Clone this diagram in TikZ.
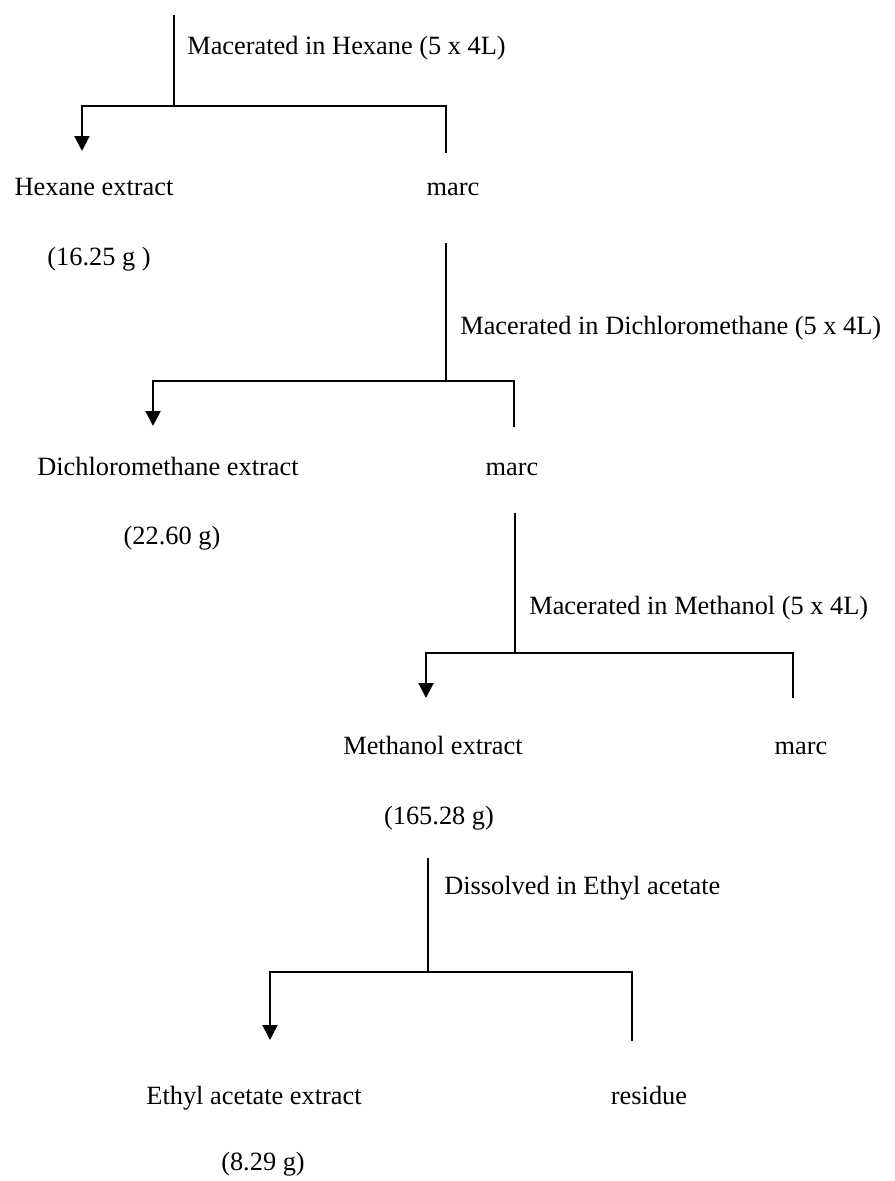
\documentclass[tikz,border=0pt]{standalone}
\usepackage{fontspec}
\setmainfont{Liberation Serif}
\usetikzlibrary{arrows.meta, positioning}

\begin{document}
\begin{tikzpicture}[x=0.02cm, y=-0.02cm,
    txt/.style={inner sep=0pt, text height=0.7em, text depth=0.2em,
      yshift=-0.06cm, font=\fontsize{15}{18}\selectfont},
    step label/.style={txt, anchor=west},
    branch/.style={line width=1.2pt},
    to extract/.style={branch, -{Triangle[width=8.5pt, length=8.5pt]}}]
    \useasboundingbox (0,0) rectangle (894,1181);

    % hexane
    \coordinate (t1) at (174,15);
    \coordinate (j1) at (174,106);
    \coordinate (a1) at (82,151);
    \coordinate (b1) at (446,153);
    \node[step label] (lab1) at (187,47) {Macerated in Hexane (5 x 4L)};
    \node[txt] (hex) at (94,188) {Hexane extract};
    \node[txt] (hexw) at (99,258) {(16.25 g )};
    \node[txt] (marc1) at (453,188) {marc};
    \draw[branch] (t1) -- (j1);
    \draw[to extract] (j1) -| (a1);
    \draw[branch] (j1) -| (b1);

    % dichloromethane
    \coordinate (t2) at (446,243);
    \coordinate (j2) at (446,381);
    \coordinate (a2) at (153,426);
    \coordinate (b2) at (514,427);
    \node[step label] (lab2) at (460,327) {Macerated in Dichloromethane (5 x 4L)};
    \node[txt] (dcm) at (168,468) {Dichloromethane extract};
    \node[txt] (dcmw) at (172,537) {(22.60 g)};
    \node[txt] (marc2) at (512,468) {marc};
    \draw[branch] (t2) -- (j2);
    \draw[to extract] (j2) -| (a2);
    \draw[branch] (j2) -| (b2);

    % methanol
    \coordinate (t3) at (515,513);
    \coordinate (j3) at (515,653);
    \coordinate (a3) at (426,698);
    \coordinate (b3) at (793,698);
    \node[step label] (lab3) at (529,607) {Macerated in Methanol (5 x 4L)};
    \node[txt] (meoh) at (433,747) {Methanol extract};
    \node[txt] (meohw) at (439,817) {(165.28 g)};
    \node[txt] (marc3) at (801,747) {marc};
    \draw[branch] (t3) -- (j3);
    \draw[to extract] (j3) -| (a3);
    \draw[branch] (j3) -| (b3);

    % ethyl acetate
    \coordinate (t4) at (428,858);
    \coordinate (j4) at (428,972);
    \coordinate (a4) at (270,1040);
    \coordinate (b4) at (632,1041);
    \node[step label] (lab4) at (444,887) {Dissolved in Ethyl acetate};
    \node[txt] (etoac) at (254,1097) {Ethyl acetate extract};
    \node[txt] (etoacw) at (263,1163) {(8.29 g)};
    \node[txt] (res) at (649,1097) {residue};
    \draw[branch] (t4) -- (j4);
    \draw[to extract] (j4) -| (a4);
    \draw[branch] (j4) -| (b4);
\end{tikzpicture}
\end{document}
